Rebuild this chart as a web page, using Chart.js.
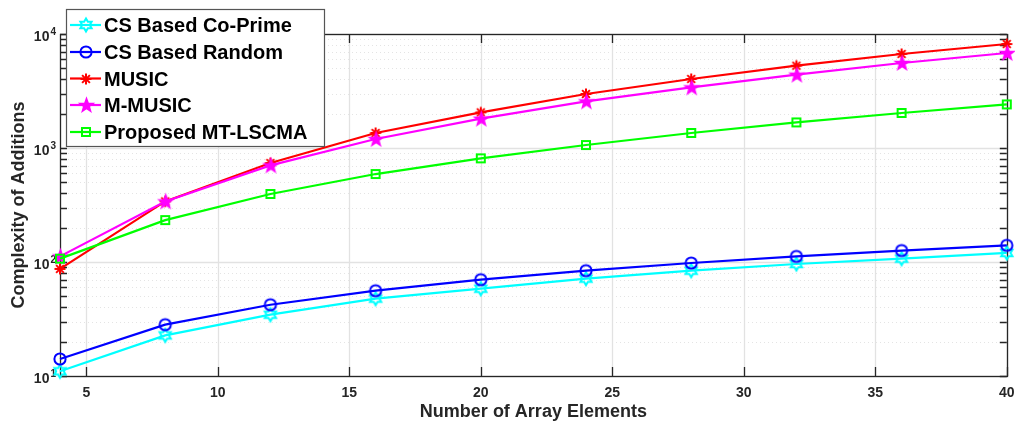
<!DOCTYPE html>
<html><head><meta charset="utf-8">
<script src="https://cdn.jsdelivr.net/npm/chart.js@4.4.1/dist/chart.umd.min.js"></script>
<style>html,body{margin:0;padding:0;background:#fff;} canvas{display:block;}</style>
</head><body>
<canvas id="c" width="1015" height="428"></canvas>
<script>
const categories = [4, 8, 12, 16, 20, 24, 28, 32, 36, 40];
const csCoPrime = [11, 22.7, 34.5, 47.7, 58.3, 71.4, 83.9, 96, 107, 120];
const csRandom  = [14.1, 28.2, 42.2, 56, 70, 84, 98, 112, 126, 140];
const music     = [87, 340, 738, 1354, 2052, 2977, 4030, 5272, 6677, 8170];
const mMusic    = [112, 340, 704, 1199, 1807, 2563, 3401, 4395, 5567, 6811];
const proposed  = [107, 233, 395, 591, 811, 1062, 1354, 1677, 2028, 2412];
const seriesNames = ['CS Based Co-Prime', 'CS Based Random', 'MUSIC', 'M-MUSIC', 'Proposed MT-LSCMA'];
const xTickValues = [5, 10, 15, 20, 25, 30, 35, 40];
const xTickLabels = ['5', '10', '15', '20', '25', '30', '35', '40'];
const yTickValues = [10, 100, 1000, 10000];
const yTickExponents = ['1', '2', '3', '4'];
const xTitle = 'Number of Array Elements';
const yTitle = 'Complexity of Additions';

const FONT = "'Liberation Sans', Arial, Helvetica, sans-serif";
const colors = ['#00ffff', '#0000ff', '#ff0000', '#ff00ff', '#00ff00'];

function mk(size, draw) {
  const c = document.createElement('canvas');
  c.width = size; c.height = size;
  const g = c.getContext('2d');
  draw(g, size / 2);
  return c;
}
function starPath(g, cx, n, ro, ri) {
  g.beginPath();
  for (let i = 0; i < 2 * n; i++) {
    const r = i % 2 ? ri : ro;
    const a = -Math.PI / 2 + i * Math.PI / n;
    const x = cx + r * Math.cos(a), y = cx + r * Math.sin(a);
    if (i) g.lineTo(x, y); else g.moveTo(x, y);
  }
  g.closePath();
}
const hexMarker = mk(20, (g, c) => { starPath(g, c, 6, 6.5, 3.75); g.strokeStyle = colors[0]; g.lineWidth = 2; g.stroke(); });
const circMarker = mk(20, (g, c) => { g.beginPath(); g.arc(c, c, 5.6, 0, Math.PI * 2); g.strokeStyle = colors[1]; g.lineWidth = 2; g.stroke(); });
const astMarker = mk(20, (g, c) => {
  g.strokeStyle = colors[2]; g.lineWidth = 2; g.beginPath();
  for (let k = 0; k < 4; k++) { const a = k * Math.PI / 4; const r = 5.5;
    g.moveTo(c - r * Math.cos(a), c - r * Math.sin(a)); g.lineTo(c + r * Math.cos(a), c + r * Math.sin(a)); }
  g.stroke();
});
const pentMarker = mk(20, (g, c) => { starPath(g, c + 0.5, 5, 7, 2.9); g.fillStyle = colors[3]; g.fill(); g.strokeStyle = colors[3]; g.lineWidth = 1.5; g.stroke(); });
const sqMarker = mk(20, (g, c) => { g.strokeStyle = colors[4]; g.lineWidth = 2; g.strokeRect(c - 4, c - 4, 8, 8); });
const markers = [hexMarker, circMarker, astMarker, pentMarker, sqMarker];

const seriesData = [csCoPrime, csRandom, music, mMusic, proposed];
const datasets = seriesData.map((d, i) => ({
  label: seriesNames[i],
  data: categories.map((x, j) => ({ x: x, y: d[j] })),
  borderColor: colors[i], backgroundColor: colors[i],
  borderWidth: 2.2, pointStyle: markers[i], pointRadius: 6,
  tension: 0, clip: false, order: 5 - i
}));

const framePlugin = {
  id: 'frame',
  beforeDatasetsDraw(chart) {
    const ctx = chart.ctx, a = chart.chartArea, xs = chart.scales.x, ys = chart.scales.y;
    ctx.save();
    // minor grid
    ctx.strokeStyle = '#e4e4e4'; ctx.lineWidth = 1; ctx.setLineDash([1, 3]);
    const minor = [];
    for (let d = 10; d < 10000; d *= 10) for (let k = 2; k <= 9; k++) minor.push(d * k);
    minor.forEach(v => { const y = Math.round(ys.getPixelForValue(v)) + 0.5;
      ctx.beginPath(); ctx.moveTo(a.left, y); ctx.lineTo(a.right, y); ctx.stroke(); });
    ctx.setLineDash([]);
    // major grid
    ctx.strokeStyle = '#e2e2e2'; ctx.lineWidth = 1.3;
    xTickValues.forEach(v => { const x = Math.round(xs.getPixelForValue(v)) + 0.5;
      ctx.beginPath(); ctx.moveTo(x, a.top); ctx.lineTo(x, a.bottom); ctx.stroke(); });
    yTickValues.forEach(v => { const y = Math.round(ys.getPixelForValue(v)) + 0.5;
      ctx.beginPath(); ctx.moveTo(a.left, y); ctx.lineTo(a.right, y); ctx.stroke(); });
    // box
    ctx.strokeStyle = '#262626'; ctx.lineWidth = 1.3;
    ctx.strokeRect(Math.round(a.left) + 0.5, Math.round(a.top) + 0.5, Math.round(a.right - a.left), Math.round(a.bottom - a.top));
    // ticks
    ctx.beginPath();
    xTickValues.forEach(v => { const x = Math.round(xs.getPixelForValue(v)) + 0.5;
      ctx.moveTo(x, a.bottom); ctx.lineTo(x, a.bottom - 9);
      ctx.moveTo(x, a.top); ctx.lineTo(x, a.top + 9); });
    yTickValues.concat(minor).forEach(v => { const y = Math.round(ys.getPixelForValue(v)) + 0.5;
      ctx.moveTo(a.left, y); ctx.lineTo(a.left + 7, y);
      ctx.moveTo(a.right, y); ctx.lineTo(a.right - 7, y); });
    ctx.stroke();
    // tick labels
    ctx.fillStyle = '#262626';
    ctx.font = 'bold 14px ' + FONT; ctx.textAlign = 'center'; ctx.textBaseline = 'alphabetic';
    xTickValues.forEach((v, i) => ctx.fillText(xTickLabels[i], xs.getPixelForValue(v), 397));
    yTickValues.forEach((v, i) => {
      const y = ys.getPixelForValue(v);
      ctx.font = 'bold 10px ' + FONT; ctx.textAlign = 'right';
      ctx.fillText(yTickExponents[i], 56, y + 1);
      const ew = ctx.measureText(yTickExponents[i]).width;
      ctx.font = 'bold 14px ' + FONT;
      ctx.fillText('10', 56 - ew - 1, y + 7);
    });
    // titles
    ctx.font = 'bold 18px ' + FONT; ctx.textAlign = 'center';
    ctx.fillText(xTitle, (a.left + a.right) / 2, 417);
    ctx.save();
    ctx.translate(24, (a.top + a.bottom) / 2); ctx.rotate(-Math.PI / 2);
    ctx.fillText(yTitle, 0, 0);
    ctx.restore();
    ctx.restore();
  },
  afterDraw(chart) {
    const ctx = chart.ctx;
    ctx.save();
    ctx.fillStyle = '#ffffff'; ctx.fillRect(66, 9, 258, 137);
    ctx.strokeStyle = '#555555'; ctx.lineWidth = 1.2; ctx.strokeRect(66.5, 9.5, 258, 137);
    const rows = [25, 52, 78.5, 105, 132];
    chart.data.datasets.forEach((ds, i) => {
      const y = rows[i];
      ctx.strokeStyle = ds.borderColor; ctx.lineWidth = 2.2;
      ctx.beginPath(); ctx.moveTo(70, y); ctx.lineTo(101, y); ctx.stroke();
      const m = ds.pointStyle; ctx.drawImage(m, Math.round(85.5 - m.width / 2), Math.round(y - m.height / 2));
      ctx.fillStyle = '#000'; ctx.font = 'bold 20px ' + FONT; ctx.textAlign = 'left'; ctx.textBaseline = 'alphabetic';
      ctx.fillText(ds.label, 104, y + 7);
    });
    ctx.restore();
  }
};

new Chart(document.getElementById('c'), {
  type: 'line',
  data: { datasets: datasets },
  options: {
    responsive: false, animation: false, devicePixelRatio: 1, events: [],
    layout: { padding: { top: 34, right: 7, left: 0, bottom: 0 } },
    plugins: { legend: { display: false }, tooltip: { enabled: false } },
    scales: {
      x: { type: 'linear', min: 4, max: 40, ticks: { display: false }, grid: { display: false }, border: { display: false },
           afterFit(s) { s.height = 52; } },
      y: { type: 'logarithmic', min: 10, max: 10000, ticks: { display: false }, grid: { display: false }, border: { display: false },
           afterFit(s) { s.width = 60; } }
    }
  },
  plugins: [framePlugin]
});
</script>
</body></html>
